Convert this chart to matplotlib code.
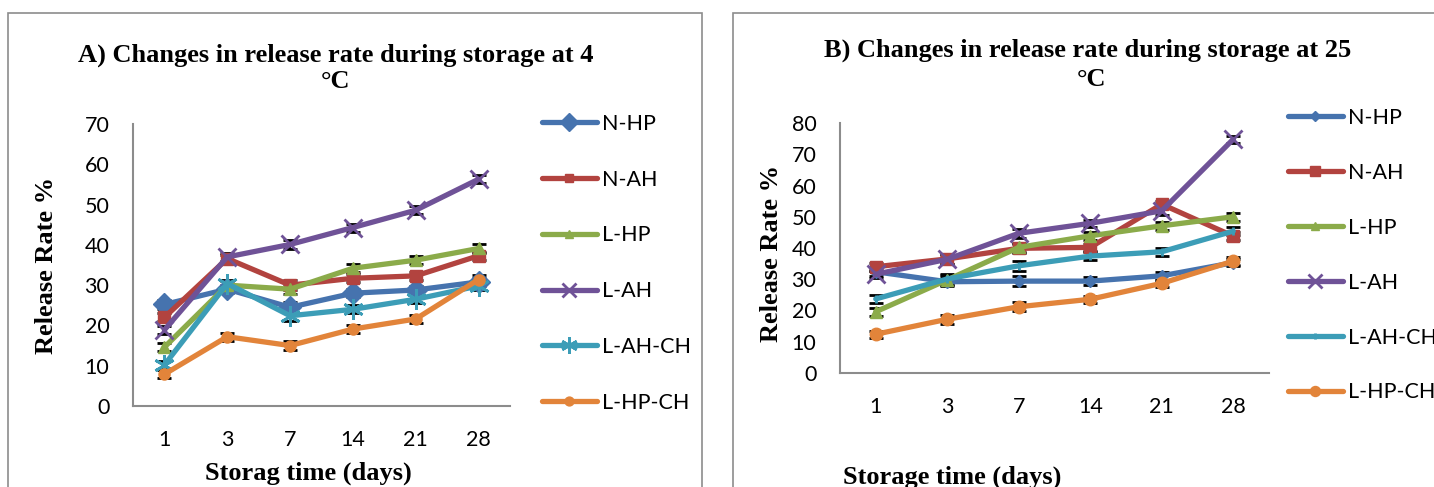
import matplotlib
matplotlib.use("Agg")
import matplotlib.pyplot as plt
from matplotlib.patches import Rectangle

days = ["1", "3", "7", "14", "21", "28"]
names = ["N-HP", "N-AH", "L-HP", "L-AH", "L-AH-CH", "L-HP-CH"]

# release rate % at 4 °C
a_nhp = [25.2, 29.0, 24.5, 28.0, 28.8, 30.8]
a_nah = [22.0, 36.6, 30.0, 31.7, 32.3, 37.3]
a_lhp = [14.6, 30.0, 29.0, 34.2, 36.2, 39.1]
a_lah = [18.9, 37.0, 40.1, 44.3, 48.6, 56.3]
a_lahch = [10.2, 30.4, 22.4, 24.0, 26.5, 29.8]
a_lhpch = [7.9, 17.2, 15.0, 19.1, 21.6, 31.4]
a_err = [1.0, 1.0, 1.2, 1.0, 1.0, 1.0]

# release rate % at 25 °C
b_nhp = [32.4, 29.2, 29.4, 29.4, 31.1, 35.3]
b_nah = [34.0, 36.5, 39.9, 40.2, 54.0, 43.8]
b_lhp = [19.6, 29.8, 40.2, 43.9, 47.1, 50.0]
b_lah = [31.6, 36.4, 44.7, 47.9, 51.9, 74.8]
b_lahch = [23.7, 30.1, 34.3, 37.4, 38.8, 45.4]
b_lhpch = [12.4, 17.2, 21.2, 23.6, 28.7, 35.8]
b_err = [1.2, 1.5, 1.5, 1.2, 1.2, 1.2]

colors = ["#4673AE", "#B2433F", "#8BAB4A", "#6F5297", "#3C9DB7", "#E2843A"]
ast = (6, 2, 0)
markers_a = [("D", 11), ("s", 8), ("^", 8), ("x", 13), (ast, 15), ("o", 8)]
markers_b = [("D", 6), ("s", 9), ("^", 8), ("x", 13), ("|", 6), ("o", 9)]

W, H = 1434, 487
fig = plt.figure(figsize=(W / 100, H / 100), dpi=100)
tickfont = "Lato"
serif = "Liberation Serif"
fs = 15.5

# panel frames
fig.patches.append(Rectangle((8 / W, -0.1), 694 / W, 1.1 - 13 / H, transform=fig.transFigure,
                             fill=False, edgecolor="#8c8c8c", linewidth=1.2))
fig.patches.append(Rectangle((733 / W, -0.1), 0.5, 1.1 - 13 / H, transform=fig.transFigure,
                             fill=False, edgecolor="#8c8c8c", linewidth=1.2))


def draw(ax, series, err, markers, ymax):
    x = list(range(len(days)))
    for vals, c, (m, ms), name in zip(series, colors, markers, names):
        ax.errorbar(x, vals, yerr=err, fmt="none", ecolor="black", elinewidth=1.2,
                    capsize=5, capthick=2, zorder=2)
        ax.plot(x, vals, color=c, lw=3.8, marker=m, ms=ms, mew=2 if m in ("x", ast, "|") else 1,
                mec=c, mfc=c, label=name, zorder=3, solid_capstyle="round")
    ax.set_xlim(-0.5, 5.5)
    ax.set_ylim(0, ymax)
    ax.set_yticks(range(0, ymax + 1, 10))
    ax.set_xticks(x)
    ax.set_xticklabels(days)
    for s in ("top", "right"):
        ax.spines[s].set_visible(False)
    for s in ("left", "bottom"):
        ax.spines[s].set_color("#8c8c8c")
        ax.spines[s].set_linewidth(1.5)
    ax.tick_params(axis="both", length=0, labelsize=fs)
    ax.tick_params(axis="y", pad=17)
    ax.tick_params(axis="x", pad=17)
    for t in ax.get_xticklabels() + ax.get_yticklabels():
        t.set_fontfamily(tickfont)


ax1 = fig.add_axes([133 / W, 1 - 406 / H, 377 / W, 282 / H])
draw(ax1, [a_nhp, a_nah, a_lhp, a_lah, a_lahch, a_lhpch], a_err, markers_a, 70)
ax2 = fig.add_axes([840 / W, 1 - 373 / H, 429 / W, 250 / H])
draw(ax2, [b_nhp, b_nah, b_lhp, b_lah, b_lahch, b_lhpch], b_err, markers_b, 80)

leg_kw = dict(frameon=False, borderpad=0, borderaxespad=0,
              prop={"family": tickfont, "size": fs}, handletextpad=0.25, handlelength=2.55,
              markerscale=0.8)
fig.legend(*ax1.get_legend_handles_labels(), loc="upper left", labelspacing=1.66,
           bbox_to_anchor=(542 / W, 1 - 114 / H), **leg_kw)
fig.legend(*ax2.get_legend_handles_labels(), loc="upper left", labelspacing=1.62,
           bbox_to_anchor=(1288 / W, 1 - 108 / H), **leg_kw)

tkw = dict(family=serif, weight="bold", size=19, ha="center", va="center")
fig.text(336 / W, 1 - 55 / H, "A) Changes in release rate during storage at 4", **tkw)
fig.text(336 / W, 1 - 81 / H, "°C", **tkw)
fig.text(1088 / W, 1 - 50 / H, "B) Changes in release rate during storage at 25", **tkw)
fig.text(1091 / W, 1 - 80 / H, "°C", **tkw)

fig.text(47 / W, 1 - 265 / H, "Release Rate %", rotation=90, **tkw)
fig.text(771 / W, 1 - 253 / H, "Release Rate %", rotation=90, **tkw)
fig.text(308 / W, 1 - 473 / H, "Storag time (days)", **tkw)
fig.text(952 / W, 1 - 477 / H, "Storage time (days)", **tkw)

fig.savefig("out.png", dpi=100)
